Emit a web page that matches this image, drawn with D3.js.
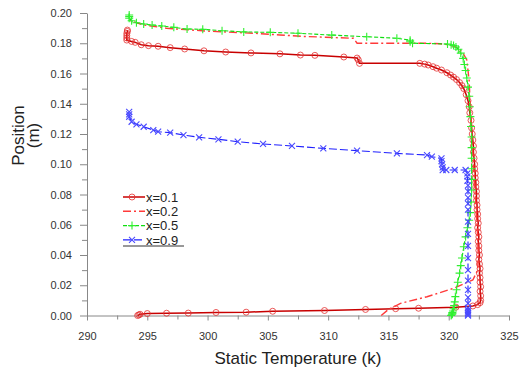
<!DOCTYPE html>
<html>
<head>
<meta charset="utf-8">
<script src="https://cdn.jsdelivr.net/npm/d3@7"></script>
<style>
  body { margin: 0; background: #fff; }
  svg { font-family: Arial, "Liberation Sans", sans-serif; }
  .axis path, .axis line { stroke: #888; }
  .axis text { fill: #333; font-size: 11px; }
</style>
</head>
<body>
<div id="chart"></div>
<script>

//Series x=0.1 (position vs temperature)
var x01Temp = [294.2, 294.3, 294.4, 295.0, 296.6, 298.4, 300.7, 303.2, 305.4, 309.7, 313.1, 315.6, 317.5, 320.6, 322.0, 322.4, 322.6,
  322.65, 322.65, 322.6, 322.65, 322.6, 322.6, 322.55, 322.6, 322.55, 322.5, 322.55, 322.5, 322.5, 322.45, 322.5, 322.45, 322.4,
  322.45, 322.4, 322.4, 322.35, 322.35, 322.3, 322.3, 322.3, 322.25, 322.25, 322.2, 322.2, 322.15, 322.15, 322.1, 322.05, 322.05,
  322.0, 321.95, 321.9, 321.85, 321.75, 321.7, 321.6, 321.45, 321.25, 321.1, 320.9, 320.65, 320.4, 320.15, 319.85, 319.4, 319.0,
  318.7, 318.3, 318.0, 317.6, 312.6, 312.5, 312.4, 311.3, 308.9, 307.7, 306.0, 303.6, 301.5, 299.7, 298.1, 296.9, 295.9, 295.1,
  294.5, 294.0, 293.7, 293.3, 293.3, 293.3, 293.3, 293.35, 293.35];
var x01Pos = [0.0000, 0.0004, 0.0008, 0.0013, 0.0015, 0.0016, 0.0020, 0.0022, 0.0028, 0.0033, 0.0040, 0.0045, 0.0048, 0.0055, 0.0063, 0.0072, 0.0085,
  0.010, 0.013, 0.016, 0.019, 0.022, 0.025, 0.028, 0.031, 0.034, 0.037, 0.040, 0.043, 0.046, 0.049, 0.052, 0.055, 0.058,
  0.061, 0.064, 0.067, 0.070, 0.073, 0.076, 0.079, 0.082, 0.085, 0.088, 0.091, 0.094, 0.097, 0.100, 0.104, 0.108, 0.112,
  0.116, 0.120, 0.124, 0.129, 0.134, 0.138, 0.142, 0.146, 0.150, 0.152, 0.154, 0.156, 0.1576, 0.159, 0.1605, 0.1623, 0.1635,
  0.1645, 0.1656, 0.1662, 0.1667, 0.1667, 0.1690, 0.1702, 0.1709, 0.1720, 0.1722, 0.1730, 0.1736, 0.1742, 0.1750, 0.1762, 0.1771, 0.1780, 0.1784,
  0.1790, 0.1806, 0.1812, 0.1821, 0.1835, 0.1850, 0.1865, 0.1878, 0.1887];

//Series x=0.2
var x02Temp = [314.4, 315.0, 316.0, 318.2, 320.4, 322.0, 322.4, 322.45, 322.35, 322.2, 322.05, 321.95, 321.85, 321.75, 321.7,
  321.6, 321.5, 321.2, 320.8, 320.1, 319.3, 318.2, 312.4, 312.1, 308.0, 306.0, 303.8, 300.0, 296.6, 294.7, 293.6, 293.4];
var x02Pos = [0.0000, 0.0040, 0.0080, 0.0124, 0.0180, 0.0235, 0.0300, 0.0400, 0.0600, 0.0800, 0.1000, 0.1150, 0.1310, 0.1450, 0.1550,
  0.1620, 0.1690, 0.1733, 0.1767, 0.1788, 0.1797, 0.1800, 0.1800, 0.1833, 0.1845, 0.1855, 0.1866, 0.1880, 0.1899, 0.1921, 0.1949, 0.1976];

//Series x=0.5
var x05Temp = [320.2, 320.25, 320.3, 320.3, 320.3, 320.35, 320.4, 320.45, 320.5, 320.55, 320.65, 320.75, 320.9, 321.0, 321.1, 321.25,
  321.4, 321.55, 321.7, 321.8, 321.85, 321.9, 321.9, 321.9, 321.9, 321.9, 321.9, 321.85, 321.8, 321.75, 321.7, 321.6, 321.5, 321.4,
  321.3, 321.2, 321.0, 320.8, 320.6, 320.4, 320.2, 319.9, 317.0, 316.8, 316.8, 315.7, 313.2, 310.3, 307.5, 305.2, 303.0, 301.2,
  299.6, 298.3, 297.2, 296.2, 295.4, 294.7, 294.1, 293.7, 293.5, 293.5, 293.5];
var x05Pos = [0.0000, 0.0005, 0.0010, 0.0015, 0.0020, 0.0030, 0.0045, 0.0065, 0.0090, 0.0125, 0.0170, 0.0220, 0.0280, 0.0330, 0.0380, 0.0455,
  0.0520, 0.0580, 0.0630, 0.0680, 0.0750, 0.0830, 0.0900, 0.0970, 0.1040, 0.1110, 0.1180, 0.1250, 0.1315, 0.1380, 0.1450, 0.1510, 0.1570, 0.1620,
  0.1660, 0.1700, 0.1735, 0.1760, 0.1775, 0.1785, 0.1790, 0.1795, 0.1800, 0.1810, 0.1820, 0.1833, 0.1843, 0.1854, 0.1866, 0.1872, 0.1875, 0.1883,
  0.1892, 0.1894, 0.1905, 0.1914, 0.1921, 0.1927, 0.1936, 0.1949, 0.1965, 0.1976, 0.1987];

//Series x=0.9
var x09Temp = [321.6, 321.6, 321.6, 321.6, 321.6, 321.6, 321.6, 321.6, 321.6, 321.6, 321.6, 321.6, 321.6, 321.6, 321.6, 321.6,
  321.6, 321.6, 321.6, 321.6, 321.55, 321.55, 321.55, 321.4, 320.5, 319.8, 319.5, 319.5, 319.45, 319.4, 319.4, 318.6, 318.2,
  315.7, 312.4, 309.6, 307.0, 304.6, 302.5, 300.9, 299.3, 298.0, 296.9, 295.9, 295.5, 294.7, 294.1, 293.7, 293.5, 293.5, 293.5];
var x09Pos = [0.0000, 0.0008, 0.0016, 0.0025, 0.0035, 0.0050, 0.0080, 0.0120, 0.0170, 0.0230, 0.0300, 0.0380, 0.0460, 0.0540, 0.0620, 0.0700,
  0.0740, 0.0780, 0.0820, 0.0860, 0.0890, 0.0920, 0.0940, 0.0962, 0.0962, 0.0962, 0.0961, 0.0980, 0.1000, 0.1020, 0.1039, 0.1050, 0.1061,
  0.1072, 0.1090, 0.1105, 0.1121, 0.1134, 0.1149, 0.1165, 0.1178, 0.1193, 0.1209, 0.1215, 0.1226, 0.1248, 0.1264, 0.1281, 0.1314, 0.1330, 0.1347];

//Axis ticks
var xTicks = [290, 295, 300, 305, 310, 315, 320, 325];
var xMinor = [292.5, 297.5, 302.5, 307.5, 312.5, 317.5, 322.5];
var yTicks = [0, 0.02, 0.04, 0.06, 0.08, 0.10, 0.12, 0.14, 0.16, 0.18, 0.20];
var yMinor = [0.01, 0.03, 0.05, 0.07, 0.09, 0.11, 0.13, 0.15, 0.17, 0.19];

var seriesNames = ['x=0.1', 'x=0.2', 'x=0.5', 'x=0.9'];

function zipSeries(t, p) {
  return t.map(function(d, i) { return { t: d, p: p[i] }; });
}

var series = [
  { name: seriesNames[0], data: zipSeries(x01Temp, x01Pos), line: '#c80000', width: 1.5, dash: null, marker: 'circle', mcolor: '#e53030' },
  { name: seriesNames[1], data: zipSeries(x02Temp, x02Pos), line: '#ff3a3a', width: 1.4, dash: '8,3,2,3', marker: null, mcolor: '#ff3030' },
  { name: seriesNames[2], data: zipSeries(x05Temp, x05Pos), line: '#10dd10', width: 1.1, dash: '4,2', marker: 'plus', mcolor: '#30f030' },
  { name: seriesNames[3], data: zipSeries(x09Temp, x09Pos), line: '#2020ff', width: 1.1, dash: '8,3', marker: 'cross', mcolor: '#4a4aff' }
];

//Canvas and scales
var width = 519, height = 367;
var margin = { top: 13, right: 10, bottom: 51.5, left: 87 };

var svg = d3.select('#chart').append('svg')
  .attr('width', width)
  .attr('height', height);

var xScale = d3.scaleLinear()
  .domain([290, 325])
  .range([margin.left, 509]);

var yScale = d3.scaleLinear()
  .domain([0, 0.20])
  .range([height - margin.bottom, margin.top]);

//Axes
svg.append('g')
  .attr('class', 'axis')
  .attr('transform', 'translate(0,' + yScale(0) + ')')
  .call(d3.axisBottom(xScale).tickValues(xMinor).tickSize(4).tickFormat(''))
  .select('.domain').remove();

var xAxis = svg.append('g')
  .attr('class', 'axis')
  .attr('transform', 'translate(0,' + yScale(0) + ')')
  .call(d3.axisBottom(xScale).tickValues(xTicks).tickSize(5).tickSizeOuter(0).tickPadding(12).tickFormat(d3.format('d')));
xAxis.selectAll('.tick line').attr('stroke', '#555');

svg.append('g')
  .attr('class', 'axis')
  .attr('transform', 'translate(' + margin.left + ',0)')
  .call(d3.axisLeft(yScale).tickValues(yMinor).tickSize(5).tickFormat(''))
  .select('.domain').remove();

var yAxis = svg.append('g')
  .attr('class', 'axis')
  .attr('transform', 'translate(' + margin.left + ',0)')
  .call(d3.axisLeft(yScale).tickValues(yTicks).tickSize(7).tickSizeOuter(0).tickPadding(8).tickFormat(d3.format('.2f')));
yAxis.selectAll('.tick line').attr('stroke', '#555');

//Lines
var line = d3.line()
  .x(function(d) { return xScale(d.t); })
  .y(function(d) { return yScale(d.p); });

function drawMarker(g, type, color, x, y) {
  if (type === 'circle') {
    g.append('circle')
      .attr('cx', x).attr('cy', y).attr('r', 3)
      .attr('fill', 'none').attr('stroke', color).attr('stroke-width', 1).attr('stroke-opacity', 0.8);
  } else if (type === 'plus') {
    g.append('path')
      .attr('d', 'M' + (x - 4) + ',' + y + 'H' + (x + 4) + 'M' + x + ',' + (y - 4) + 'V' + (y + 4))
      .attr('stroke', color).attr('stroke-width', 1.1).attr('fill', 'none');
  } else if (type === 'cross') {
    g.append('path')
      .attr('d', 'M' + (x - 3) + ',' + (y - 3) + 'L' + (x + 3) + ',' + (y + 3) + 'M' + (x - 3) + ',' + (y + 3) + 'L' + (x + 3) + ',' + (y - 3))
      .attr('stroke', color).attr('stroke-width', 1.1).attr('fill', 'none');
  }
}

series.forEach(function(s) {
  var g = svg.append('g');
  g.append('path')
    .datum(s.data)
    .attr('d', line)
    .attr('fill', 'none')
    .attr('stroke', s.line)
    .attr('stroke-width', s.width)
    .attr('stroke-dasharray', s.dash);
  if (s.marker) {
    s.data.forEach(function(d) {
      drawMarker(g, s.marker, s.mcolor, xScale(d.t), yScale(d.p));
    });
  }
});

//Legend
var legend = svg.append('g').attr('transform', 'translate(123,197)');
series.forEach(function(s, i) {
  var ly = i * 14.3;
  legend.append('line')
    .attr('x1', 0).attr('x2', 22).attr('y1', ly).attr('y2', ly)
    .attr('stroke', s.line).attr('stroke-width', s.width)
    .attr('stroke-dasharray', s.dash);
  if (s.marker) drawMarker(legend, s.marker, s.mcolor, 9, ly);
  legend.append('text')
    .attr('x', 23).attr('y', ly + 4.6)
    .attr('fill', '#222')
    .style('font-size', '13px')
    .text(s.name);
});
legend.append('line')
  .attr('x1', 0).attr('x2', 61).attr('y1', 49).attr('y2', 49)
  .attr('stroke', '#333').attr('stroke-width', 1);

//Axis titles
svg.append('text')
  .attr('x', 298).attr('y', 364)
  .attr('text-anchor', 'middle')
  .attr('fill', '#222')
  .style('font-size', '17px')
  .text('Static Temperature (k)');

svg.append('text')
  .attr('transform', 'translate(24,135.5) rotate(-90)')
  .attr('text-anchor', 'middle')
  .attr('fill', '#222')
  .style('font-size', '17px')
  .text('Position');

svg.append('text')
  .attr('transform', 'translate(39,135.5) rotate(-90)')
  .attr('text-anchor', 'middle')
  .attr('fill', '#222')
  .style('font-size', '17px')
  .text('(m)');

</script>
</body>
</html>
